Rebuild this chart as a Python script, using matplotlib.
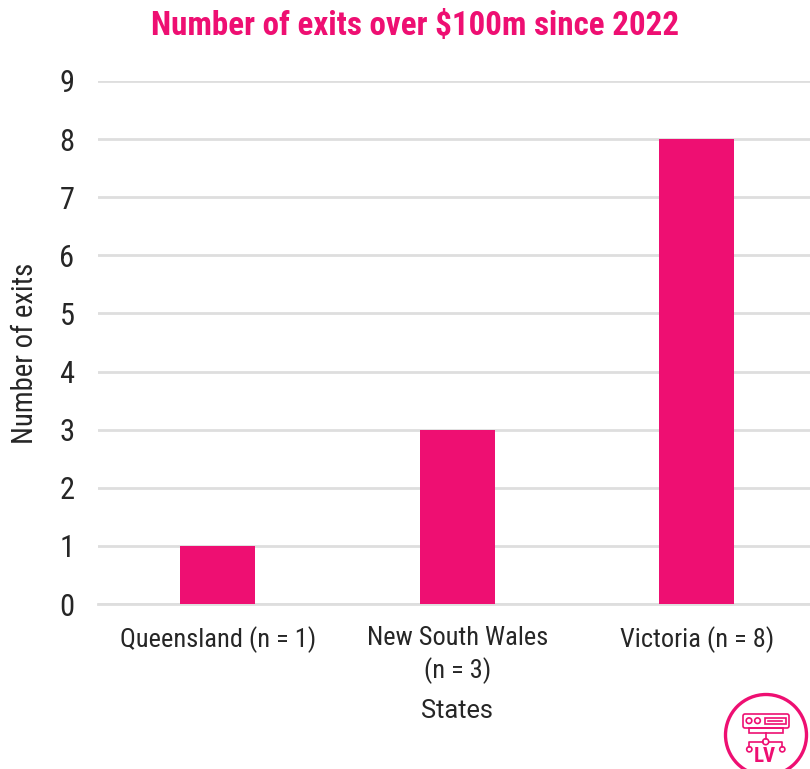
import matplotlib
matplotlib.use("Agg")
import matplotlib.pyplot as plt
from matplotlib.patches import Circle, FancyBboxPatch, Rectangle

states = ["Queensland (n = 1)", "New South Wales\n(n = 3)", "Victoria (n = 8)"]
exits = [1, 3, 8]
y_ticks = list(range(10))

PINK = "#EE0F72"
GRID = "#DEDEDE"
TEXT = "#262626"
NARROW = "Roboto Condensed"

fig = plt.figure(figsize=(8.1, 7.69), dpi=100, facecolor="white")
ax = fig.add_axes([98 / 810, (769 - 604) / 769, 718.5 / 810, 523 / 769])

ax.bar(range(len(states)), exits, width=0.313, color=PINK, zorder=3)
ax.set_xlim(-0.5, 2.5)
ax.set_ylim(0, 9)
ax.set_yticks(y_ticks)
ax.set_xticks(range(len(states)))
ax.set_xticklabels(states, family=NARROW, fontsize=19, color=TEXT, linespacing=1.32)
ax.set_yticklabels([str(v) for v in y_ticks], family=NARROW, fontsize=22, color=TEXT)
ax.grid(axis="y", color=GRID, linewidth=2, zorder=1)
ax.set_axisbelow(True)
ax.tick_params(axis="both", length=0)
ax.tick_params(axis="x", pad=16)
ax.tick_params(axis="y", pad=17)
for side in ("top", "right", "left"):
    ax.spines[side].set_visible(False)
ax.spines["bottom"].set_color(GRID)
ax.spines["bottom"].set_linewidth(2)

fig.text(415 / 810, 1 - 26 / 769, r"Number of exits over \$100m since 2022",
         ha="center", va="center", color=PINK, fontsize=23.8, fontweight="bold", family=NARROW)
fig.text(25 / 810, 1 - 353 / 769, "Number of exits", rotation=90, ha="center", va="center",
         family=NARROW, fontsize=20.8, color=TEXT)
fig.text(457 / 810, 1 - 711 / 769, "States", ha="center", va="center",
         family="Roboto", fontsize=18.3, color=TEXT)

# Logo badge, laid out in pixel coordinates on a transparent overlay
logo = fig.add_axes([0, 0, 1, 1], facecolor="none")
logo.set_xlim(0, 810)
logo.set_ylim(769, 0)
logo.axis("off")
logo.add_patch(Circle((766, 735), 40.5, fill=False, ec=PINK, lw=2.4))
logo.add_patch(FancyBboxPatch((743, 714), 46, 14, boxstyle="round,pad=0,rounding_size=2",
                              fill=False, ec=PINK, lw=1.2))
for cx in (749, 757.5):
    logo.add_patch(Circle((cx, 720.7), 2.8, fill=False, ec=PINK, lw=1.2))
logo.add_patch(Rectangle((764.5, 718), 21.5, 6, fill=False, ec=PINK, lw=1.2))
logo.plot([768, 782], [720.7, 720.7], color=PINK, lw=1.2)
logo.add_patch(Rectangle((748.5, 728), 34.5, 5, fill=False, ec=PINK, lw=1.2))
logo.plot([765.7, 765.7], [733, 739], color=PINK, lw=1.2)
logo.plot([749.3, 749.3, 762.7], [746.5, 741.7, 741.7], color=PINK, lw=1.2)
logo.plot([768.7, 782.3, 782.3], [741.7, 741.7, 746.5], color=PINK, lw=1.2)
logo.add_patch(Circle((765.7, 741.7), 3, fill=False, ec=PINK, lw=1.2))
for cx in (749.3, 782.3):
    logo.add_patch(Circle((cx, 749.3), 2.6, fill=False, ec=PINK, lw=1.2))
logo.text(765, 757, "LV", ha="center", va="center", color=PINK, fontsize=15, fontweight="bold",
          family=NARROW)

fig.savefig("out.png", dpi=100)
